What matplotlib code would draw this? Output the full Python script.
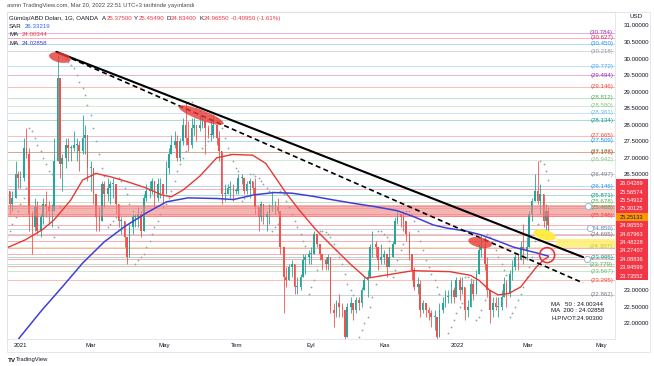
import numpy as np
import pandas as pd
import matplotlib
matplotlib.use("Agg")
import matplotlib.pyplot as plt
import matplotlib.dates as mdates
from matplotlib.patches import Ellipse, Rectangle
from matplotlib.transforms import ScaledTranslation, blended_transform_factory

plt.rcParams['font.family'] = ['Liberation Sans', 'DejaVu Sans']

# ---------------- data ----------------
# bars: Mon / Wed / Fri from 2020-12-21 to 2022-03-18
bar_dates = pd.bdate_range('2020-12-21', '2022-03-18', freq='C', weekmask='Mon Wed Fri')
first_open = 25.9
closes = [26.0, 25.6, 25.8,  26.5, 26.4, 26.4,  27.3, 27.1, 25.3,  24.9, 25.5, 24.8,
          25.2, 25.6, 25.5,  25.4, 25.4, 26.9,  29.4, 26.8, 27.0,  27.4, 27.3, 27.3,
          27.4, 27.4, 27.2,  27.6, 27.7, 26.7,  26.7, 25.9, 25.2,  25.1, 26.2, 25.9,
          26.1, 26.2, 26.2,  25.6, 25.1, 25.1,  24.6, 24.0, 24.9,  25.2, 25.2, 25.3,
          24.8, 25.8, 26.0,  26.0, 26.3, 25.8,  26.2, 26.2, 25.9,  26.7, 27.1, 27.4,
          27.5, 27.0, 27.5,  28.0, 27.6, 27.4,  27.9, 28.0, 27.9,  28.0, 28.1, 27.9,
          27.7, 27.7, 28.0,  27.6, 27.2, 25.9,  25.9, 26.1, 26.1,  26.0, 26.0, 26.4,
          26.4, 26.0, 26.2,  26.3, 26.1, 25.5,  25.2, 25.6, 25.2,  25.3, 25.5, 25.5,
          25.5, 25.4, 24.3,  23.4, 23.3, 23.7,  23.8, 23.1, 23.1,  23.4, 23.9, 24.0,
          24.1, 24.1, 24.7,  24.4, 24.1, 23.9,  23.8, 24.0, 22.4,  22.3, 22.6, 22.5,
          22.4, 21.6, 22.5,  22.6, 22.4, 22.7,  22.6, 23.0, 23.3,  23.4, 24.3, 24.4,
          24.3, 23.9, 24.0,  24.1, 23.7, 24.0,  24.4, 25.1, 25.3,  25.2, 25.1, 24.7,
          24.1, 23.6, 23.1,  23.2, 22.4, 22.6,  22.4, 22.3, 22.2,  22.2, 21.6, 22.4,
          22.6, 22.8, 22.8,  23.0, 22.8, 23.3,  23.0, 23.1, 22.4,  22.5, 23.2, 22.9,
          23.5, 24.2, 24.3,  23.8, 23.0, 22.4,  22.6, 22.5, 22.5,  22.8, 23.2, 22.9,
          23.5, 23.7, 24.0,  23.9, 24.3, 24.2,  24.3, 25.3, 25.7,  26.0, 25.7, 25.9,
          25.1, 25.4, 24.97]
highs = [27.4, 26.0, 26.0,  26.9, 26.6, 26.6,  27.6, 27.9, 27.3,  25.4, 25.8, 25.7,
         25.3, 25.8, 26.0,  25.7, 25.6, 27.6,  30.1, 29.4, 27.1,  27.6, 27.6, 27.4,
         27.8, 27.6, 27.5,  28.3, 28.0, 27.4,  26.9, 26.4, 25.5,  25.5, 26.3, 26.3,
         26.4, 26.3, 26.4,  26.1, 25.5, 25.2,  25.0, 24.5, 25.0,  25.3, 25.3, 25.5,
         25.4, 25.9, 26.2,  26.3, 26.4, 26.3,  26.4, 26.4, 26.2,  26.9, 27.3, 27.7,
         27.8, 27.7, 27.6,  28.2, 28.7, 28.1,  28.2, 28.2, 28.0,  28.3, 28.3, 28.0,
         28.0, 28.1, 28.3,  28.0, 27.8, 27.0,  26.2, 26.2, 26.3,  26.2, 26.1, 26.5,
         26.5, 26.4, 26.3,  26.4, 26.3, 26.4,  25.5, 25.7, 25.6,  25.4, 25.6, 26.0,
         25.7, 25.8, 25.4,  24.3, 23.7, 23.8,  23.9, 23.8, 23.4,  23.5, 24.1, 24.1,
         24.2, 24.3, 24.8,  24.7, 24.4, 24.1,  24.0, 24.1, 23.7,  22.6, 22.7, 22.9,
         22.6, 22.2, 22.6,  22.8, 22.6, 22.8,  22.8, 23.1, 23.4,  23.6, 24.4, 24.8,
         24.5, 24.3, 24.4,  24.2, 24.1, 24.3,  24.5, 25.2, 25.4,  25.3, 25.4, 25.0,
         24.8, 24.0, 23.7,  23.4, 23.3, 22.7,  22.6, 22.5, 22.4,  22.4, 22.1, 22.6,
         22.8, 23.0, 23.0,  23.3, 23.1, 23.4,  23.4, 23.4, 22.9,  22.7, 23.3, 23.3,
         23.6, 24.4, 24.7,  24.6, 24.0, 22.9,  22.8, 22.8, 22.8,  23.0, 23.4, 23.3,
         23.6, 23.9, 24.1,  24.1, 24.5, 25.0,  24.6, 25.4, 25.8,  26.5, 26.9, 26.2,
         25.9, 25.6, 25.5]
lows = [25.6, 25.3, 25.4,  25.9, 26.1, 26.1,  26.3, 27.0, 24.8,  24.1, 24.8, 24.7,
        24.6, 25.0, 25.2,  25.0, 24.9, 25.5,  27.0, 26.4, 26.0,  26.7, 26.9, 26.9,
        27.2, 26.9, 26.6,  27.1, 27.1, 26.3,  26.0, 25.6, 24.8,  24.8, 25.5, 25.5,
        25.7, 25.6, 25.8,  25.3, 24.9, 24.7,  24.3, 23.8, 24.1,  24.7, 24.9, 24.9,
        24.6, 24.9, 25.7,  25.8, 25.9, 25.5,  25.7, 25.8, 25.6,  25.9, 26.5, 27.1,
        27.3, 26.9, 26.9,  27.4, 27.4, 27.2,  27.3, 27.7, 27.5,  27.8, 27.9, 27.1,
        27.6, 27.5, 27.6,  27.4, 26.9, 25.6,  25.7, 25.9, 25.8,  25.7, 25.9, 25.9,
        26.2, 25.9, 25.9,  25.8, 25.9, 25.3,  24.8, 25.1, 25.0,  24.8, 25.0, 25.4,
        25.3, 25.3, 24.1,  22.3, 23.1, 23.3,  23.4, 22.9, 22.9,  23.0, 23.6, 23.5,
        23.8, 23.8, 24.2,  24.3, 23.9, 23.6,  23.6, 23.6, 22.3,  21.9, 22.2, 22.2,
        22.2, 21.4, 21.8,  22.3, 22.1, 22.3,  22.4, 22.5, 23.0,  22.8, 23.5, 24.0,
        24.0, 23.6, 23.8,  23.8, 23.4, 23.7,  24.0, 24.4, 25.0,  24.9, 24.8, 24.5,
        23.9, 23.3, 23.0,  22.9, 22.2, 22.3,  22.2, 22.1, 21.9,  21.8, 21.4, 21.8,
        22.3, 22.5, 22.6,  22.6, 22.6, 22.8,  22.7, 22.9, 22.1,  22.2, 22.7, 22.7,
        22.9, 23.5, 24.0,  23.6, 22.8, 22.0,  22.2, 22.4, 22.2,  22.4, 22.9, 22.5,
        22.8, 23.3, 23.6,  23.6, 24.0, 23.8,  23.9, 24.4, 25.1,  25.7, 25.6, 25.3,
        24.9, 24.8, 24.8]
# parabolic SAR dots, one per bar
sar = [24.6, 24.8, 25.0,  25.2, 25.4, 25.6,  25.8, 26.1, 27.9,  27.8, 27.6, 27.4,
       27.2, 27.0, 26.8,  26.6, 26.5, 24.6,  24.9, 25.5, 30.1,  30.0, 29.9, 29.8,
       29.7, 29.5, 29.3,  29.1, 28.9, 28.6,  28.3, 27.9, 27.5,  27.1, 26.7, 26.45,
       24.9, 25.0, 25.1,  25.2, 26.4, 26.3,  26.1, 25.9, 25.6,  25.4, 23.8, 23.9,
       24.0, 24.1, 24.3,  24.5, 24.7, 24.9,  25.1, 25.3, 25.5,  25.6, 25.8, 26.0,
       26.3, 26.6, 26.8,  27.0, 27.2, 28.7,  28.7, 28.6, 28.5,  28.4, 27.3, 27.4,
       27.5, 28.3, 28.3,  28.2, 28.1, 27.9,  27.6, 27.3, 27.1,  26.9, 26.7, 26.6,
       25.7, 25.8, 25.85, 26.5, 26.5, 26.45, 26.4, 26.3, 26.2,  26.1, 26.0, 24.8,
       24.9, 25.0, 26.0,  25.9, 25.7, 25.5,  25.3, 25.1, 24.9,  24.7, 24.5, 24.35,
       22.9, 23.1, 23.3,  23.6, 24.8, 24.8,  24.75, 24.7, 24.6, 24.4, 24.2, 24.0,
       23.8, 23.5, 23.2,  23.0, 22.85, 21.5, 21.6, 21.8, 22.0,  22.2, 22.5, 22.8,
       23.2, 24.8, 24.8,  24.7, 24.6, 24.5,  23.4, 23.6, 23.9,  24.2, 24.4, 25.4,
       25.4, 25.3, 25.1,  24.8, 24.5, 24.2,  23.9, 23.7, 23.5,  23.3, 23.1, 22.9,
       21.4, 21.5, 21.7,  21.9, 22.1, 22.3,  22.5, 22.6, 23.4,  23.4, 23.35, 23.3,
       22.1, 22.2, 22.4,  22.7, 24.7, 24.6,  24.4, 24.2, 24.0,  23.8, 23.6, 23.45,
       22.2, 22.3, 22.5,  22.7, 22.9, 23.1,  23.4, 23.7, 24.0,  24.5, 25.0, 26.9,
       26.8, 26.6, 26.33]

ma50_dates = ['2020-12-20', '2021-01-05', '2021-01-19', '2021-01-29', '2021-02-12', '2021-02-22',
              '2021-03-05', '2021-03-18', '2021-04-01', '2021-04-16', '2021-04-29', '2021-05-07',
              '2021-05-17', '2021-05-31', '2021-06-14', '2021-06-27', '2021-07-14', '2021-07-25',
              '2021-08-11', '2021-08-22', '2021-09-05', '2021-09-19', '2021-10-03', '2021-10-17',
              '2021-11-03', '2021-11-25', '2021-12-26', '2022-01-01', '2022-01-12', '2022-01-19',
              '2022-01-28', '2022-02-04', '2022-02-13', '2022-02-23', '2022-03-08', '2022-03-14',
              '2022-03-18']
ma50_vals = [24.27, 24.52, 24.82, 25.12, 25.72, 26.33, 26.53, 26.42, 26.27, 26.09, 25.88, 25.82,
             26.03, 26.45, 27.0, 27.1, 27.08, 26.83, 25.93, 25.42, 24.82, 24.31, 23.81, 23.36,
             23.46, 23.59, 23.56, 23.52, 23.45, 23.3, 23.0, 22.86, 22.9, 23.1, 23.7, 23.92, 24.0]

ma200_dates = ['2020-12-27', '2021-01-01', '2021-01-19', '2021-02-05', '2021-02-22', '2021-03-12',
               '2021-03-29', '2021-04-16', '2021-05-03', '2021-05-21', '2021-06-14', '2021-06-28',
               '2021-07-15', '2021-08-01', '2021-08-16', '2021-09-02', '2021-09-19', '2021-10-07',
               '2021-10-25', '2021-11-12', '2021-11-27', '2021-12-12', '2021-12-23', '2022-01-09',
               '2022-01-20', '2022-02-05', '2022-02-17', '2022-03-08', '2022-03-18']
ma200_vals = [21.35, 21.6, 22.4, 23.1, 23.82, 24.46, 24.92, 25.33, 25.67, 25.79, 25.77, 25.74,
              25.88, 25.95, 25.93, 25.84, 25.73, 25.62, 25.52, 25.4, 25.2, 24.97, 24.88, 24.78,
              24.68, 24.47, 24.3, 24.13, 24.03]

# trend lines (drawings)
trend_dates = ['2021-01-31', '2022-04-16']
trend_solid = [30.20, 24.00]
trend_dashed = [30.20, 23.22]

# horizontal rays with their labels
hl_prices = [30.784, 30.627, 30.450, 30.218, 29.772, 29.494, 29.146, 28.812, 28.580, 28.361,
             28.134, 27.665, 27.509, 27.187, 27.175, 26.942, 26.497, 26.146, 25.871, 25.678,
             25.488, 25.246, 24.859, 24.695, 24.307, 23.995, 23.779, 23.567, 23.295, 22.862]
hl_colors = ['#9c27b0', '#e91e63', '#2196f3', '#9598a1', '#42a5f5', '#9c27b0', '#f44336',
             '#4caf50', '#81c784', '#64b5f6', '#089981', '#f44336', '#2196f3', '#4caf50',
             '#f44336', '#81c784', '#787b86', '#2196f3', '#089981', '#4caf50', '#4caf50',
             '#f44336', '#5d8ab8', '#787b86', '#c0ca33', '#089981', '#4caf50', '#66bb6a',
             '#f44336', '#787b86']

# lines labelled on the price scale
axis_prices = [26.04289, 25.56574, 25.54912, 25.30125, 25.25133, 24.96550, 24.67963,
               24.48228, 24.27407, 24.08836, 23.94599, 23.73552]
axis_hilite = 25.25133
band_range = (25.25133, 25.54912)
yellow_band = (24.307, 24.55)
yellow_from = '2022-03-24'

# marks drawn by the author: (date, price, width px, height px, angle)
red_blobs = [('2021-02-03', 30.03, 22, 10, -12),
             ('2021-06-01', 28.29, 48, 10, -21),
             ('2022-01-20', 24.44, 24, 10, -12)]
yellow_blob = ('2022-03-15', 24.67, 23, 10, -15)
red_ring = ('2022-03-17', 24.06, 15)
anchors_dates = ['2022-04-20', '2022-04-22', '2022-04-19']
anchors_prices = [25.54, 24.88, 23.94]

month_ticks = ['2021-01-01', '2021-03-01', '2021-05-01', '2021-07-01', '2021-09-01',
               '2021-11-01', '2022-01-01', '2022-03-01', '2022-05-01']
month_labels = ['2021', 'Mar', 'May', 'Tem', 'Eyl', 'Kas', '2022', 'Mar', 'May']

# ---------------- figure ----------------
W, H = 654, 366
fig = plt.figure(figsize=(W / 100, H / 100), dpi=100)
fig.patch.set_facecolor('white')
L, R, T, B = 7, 615, 12, 339
ax = fig.add_axes([L / W, 1 - B / H, (R - L) / W, (B - T) / H])

d0 = mdates.date2num(pd.Timestamp('2021-01-01'))
ax.set_xlim(d0 - 11.2, d0 + 496.7)
ax.set_ylim(21.526, 31.405)

dark = '#131722'
fs = 4.4

# horizontal rays
for p, col in zip(hl_prices, hl_colors):
    ax.axhline(p, color=col, lw=0.7, alpha=0.35, zorder=1)
    ax.text(0.997, p, '(%.3f)' % p, transform=blended_transform_factory(ax.transAxes, ax.transData),
            ha='right', va='center', fontsize=fs, color=col, zorder=6)
for p in axis_prices:
    ax.axhline(p, color='#f23645', lw=0.7, alpha=0.4, zorder=1)

# candles
dates = mdates.date2num(bar_dates)
c = np.array(closes)
o = np.r_[first_open, c[:-1]]
h = np.array(highs)
lo = np.array(lows)
cols = np.where(c >= o, '#26a69a', '#ef5350')
ax.vlines(dates, np.minimum(lo, np.minimum(o, c)), np.maximum(h, np.maximum(o, c)),
          colors=cols, lw=0.6, zorder=2)
ax.bar(dates, np.maximum(np.abs(c - o), 0.03), bottom=np.minimum(o, c), width=1.4,
       color=cols, zorder=2, linewidth=0)

# parabolic SAR
ax.plot(dates, sar, ls='none', marker='o', ms=1.3, mew=0, color='#9aa0ab', zorder=2.2)

# bands
ax.axhspan(band_range[0], band_range[1], color='#f28080', alpha=0.6, lw=0, zorder=2.5)
yx0 = mdates.date2num(pd.Timestamp(yellow_from))
ax.fill_between([yx0, ax.get_xlim()[1]], yellow_band[0], yellow_band[1],
                color='#fff176', alpha=0.9, lw=0, zorder=2.5)

# moving averages
ax.plot(pd.to_datetime(ma50_dates), ma50_vals, color='#e53935', lw=1.0, zorder=3)
ax.plot(pd.to_datetime(ma200_dates), ma200_vals, color='#3f3fd8', lw=1.1, zorder=3)

# trend lines
td = pd.to_datetime(trend_dates)
ax.plot(td, trend_solid, color='black', lw=1.5, zorder=4, solid_capstyle='round')
ax.plot(td, trend_dashed, color='black', lw=1.2, ls=(0, (3, 2)), zorder=4)


def blob(date, price, wpx, hpx, ang, **kw):
    xd = mdates.date2num(pd.Timestamp(date))
    tr = fig.dpi_scale_trans + ScaledTranslation(xd, price, ax.transData)
    e = Ellipse((0, 0), wpx / 100, hpx / 100, angle=ang, transform=tr, **kw)
    ax.add_artist(e)


for b in red_blobs:
    blob(*b, facecolor='#e53935', alpha=0.8, edgecolor='none', zorder=5)
blob(*yellow_blob, facecolor='#ffeb3b', alpha=0.95, edgecolor='none', zorder=5)
blob(red_ring[0], red_ring[1], red_ring[2], red_ring[2], 0, facecolor='none',
     edgecolor='#e53935', lw=1.2, zorder=5)
ax.plot(pd.to_datetime(anchors_dates), anchors_prices, 'o', ms=4.5, mfc='white',
        mec='#9fb3d1', mew=0.7, zorder=6, clip_on=False)

# stacked red labels on price scale
box_h = 8.4 * (ax.get_ylim()[1] - ax.get_ylim()[0]) / (B - T)
centre = np.mean(axis_prices)
n = len(axis_prices)
top_box = centre + n / 2 * box_h
bot_box = centre - n / 2 * box_h

# price scale (labels hidden behind the red column are left out)
yt = np.arange(22, 31.01, 0.5)
ax.yaxis.tick_right()
ax.set_yticks(yt)
ax.set_yticklabels(['' if bot_box - 0.1 < v < top_box + 0.1 else '%.5f' % v for v in yt])
ax.tick_params(axis='y', length=0, pad=6.5, labelsize=fs, labelcolor=dark)
ax.set_xticks(pd.to_datetime(month_ticks))
ax.set_xticklabels(month_labels)
ax.tick_params(axis='x', length=0, pad=3, labelsize=fs, labelcolor=dark)
for s in ['left', 'right', 'bottom']:
    ax.spines[s].set_color('#e0e3eb')
    ax.spines[s].set_linewidth(0.6)
ax.spines['top'].set_color('#f5c0c8')
ax.spines['top'].set_linewidth(0.8)

bt = blended_transform_factory(fig.transFigure, ax.transData)
for i, p in enumerate(axis_prices):
    yc = centre + (n - 1) / 2 * box_h - i * box_h
    hil = p == axis_hilite
    ax.add_patch(Rectangle((616 / W, yc - box_h / 2), 32 / W, box_h, transform=bt,
                           facecolor='#ff9800' if hil else '#f23645', edgecolor='none',
                           clip_on=False, zorder=7))
    ax.text(632 / W, yc, '%.5f' % p, transform=bt, ha='center', va='center', fontsize=4.1,
            color=dark if hil else 'white', zorder=8, clip_on=False)

fig.text(636 / W, 1 - 17 / H, 'USD', ha='center', va='center', fontsize=fs, color=dark)

# chart frame
fig.add_artist(Rectangle((L / W, 1 - 352 / H), 643 / W, 340 / H, transform=fig.transFigure,
                         fill=False, edgecolor='#e0e3eb', lw=0.6))

# header and legend
fig.text(7 / W, 1 - 5.5 / H, 'asmn TradingView.com, Mar 20, 2022 22:51 UTC+3 tarihinde yayınlandı',
         fontsize=4.2, color='#4a4a4a', va='center')

renderer = fig.canvas.get_renderer()


def text_row(x, y, parts):
    for s, col, gap in parts:
        t = fig.text(x / W, 1 - y / H, s, fontsize=fs, color=col, va='center', ha='left')
        x += t.get_window_extent(renderer).width + gap


red = '#f23645'
text_row(9, 18.5, [('Gümüş/ABD Doları, 1G, OANDA', dark, 4), ('A', dark, 0), ('25.37500', red, 2.5),
                   ('Y', dark, 0), ('25.45490', red, 2.5), ('D', dark, 0), ('24.83400', red, 2.5),
                   ('K', dark, 0), ('24.96550', red, 2.5), ('-0.40950 (-1.61%)', red, 0)])
text_row(9, 26.5, [('SAR', dark, 3), ('26.33219', '#2962ff', 0)])
text_row(9, 35, [('MA', dark, 3), ('24.00344', red, 0)])
text_row(9, 43.5, [('MA', dark, 3), ('24.02858', '#3f3fd8', 0)])

for yy, s in [(304, 'MA   50 : 24.00344'), (311, 'MA  200 : 24.02858'), (318, 'H.PIVOT:24.90300')]:
    fig.text(551 / W, 1 - yy / H, s, fontsize=fs, color=dark, va='center')

fig.text(8 / W, 1 - 360 / H, 'TV', fontsize=4.6, fontweight='bold', color=dark, va='center')
fig.text(16 / W, 1 - 360 / H, 'TradingView', fontsize=4.2, color=dark, va='center')

fig.savefig('out.png', dpi=100)
